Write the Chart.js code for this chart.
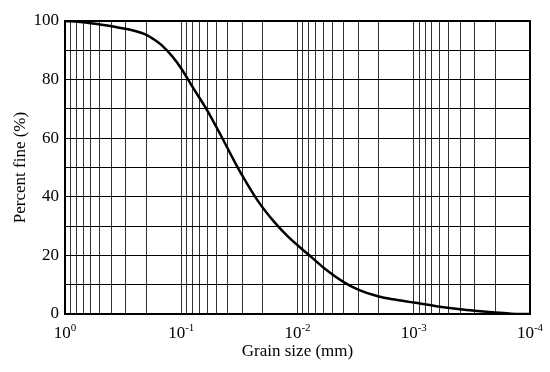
<!DOCTYPE html>
<html>
<head>
<meta charset="utf-8">
<script src="https://cdn.jsdelivr.net/npm/chart.js@4/dist/chart.umd.min.js"></script>
<style>
  body { margin: 0; background: #fff; }
  canvas { display: block; }
</style>
</head>
<body>
<canvas id="grainChart" width="550" height="372"></canvas>
<script>
// grain size (mm) and percent finer
const grainSizes = [1, 0.7, 0.5, 0.35, 0.25, 0.2, 0.17, 0.15, 0.12, 0.1, 0.08, 0.06, 0.045, 0.035, 0.03, 0.022, 0.016, 0.012, 0.008, 0.006, 0.004, 0.003, 0.002, 0.0015, 0.001, 0.0006, 0.0004, 0.0003, 0.0002, 0.00015, 0.00012, 0.0001];
const percentFine = [100, 99.6, 98.8, 97.8, 96.6, 95.3, 93.6, 92.0, 88.0, 83.8, 77.5, 69.6, 60.5, 52.2, 47.4, 38.7, 31.6, 26.3, 20.2, 15.9, 10.9, 8.3, 6.0, 5.0, 3.9, 2.5, 1.6, 1.1, 0.5, 0.15, 0, 0];
const decadeTicks = [1, 0.1, 0.01, 0.001, 0.0001];
const decadeExponents = ["0", "-1", "-2", "-3", "-4"];

const serif = "'Liberation Serif', 'Times New Roman', serif";

// every 1..9 x 10^k value between 1e-4 and 1 for the log grid
const gridValues = [];
decadeTicks.forEach((d, i) => {
    if (i === decadeTicks.length - 1) { gridValues.push(d); return; }
    for (let m = 1; m <= 9; m++) {
        gridValues.push(+(d * m / 10).toPrecision(3));
    }
});
gridValues.push(1);

const points = grainSizes.map((s, i) => ({ x: s, y: percentFine[i] }));

// decade labels like 10^-1 and the frame around the plot
const decadeLabels = {
    id: "decadeLabels",
    afterDraw(chart) {
        const ctx = chart.ctx;
        const xScale = chart.scales.x;
        const area = chart.chartArea;
        ctx.save();
        ctx.fillStyle = "#000";
        ctx.textBaseline = "alphabetic";
        ctx.textAlign = "left";
        decadeTicks.forEach((v, i) => {
            const px = xScale.getPixelForValue(v);
            ctx.font = "17px " + serif;
            const baseW = ctx.measureText("10").width;
            ctx.font = "11px " + serif;
            const supW = ctx.measureText(decadeExponents[i]).width;
            const start = px - (baseW + supW) / 2;
            ctx.font = "17px " + serif;
            ctx.fillText("10", start, 338);
            ctx.font = "11px " + serif;
            ctx.fillText(decadeExponents[i], start + baseW, 331);
        });
        ctx.strokeStyle = "#000";
        ctx.lineWidth = 2;
        ctx.strokeRect(area.left, area.top, area.right - area.left, area.bottom - area.top);
        ctx.restore();
    }
};

new Chart(document.getElementById("grainChart"), {
    type: "line",
    data: {
        datasets: [{
            data: points,
            borderColor: "#000",
            borderWidth: 2.5,
            pointRadius: 0,
            fill: false,
            cubicInterpolationMode: "monotone"
        }]
    },
    options: {
        responsive: false,
        animation: false,
        layout: { padding: { left: 0, right: 20, top: 21, bottom: 0 } },
        plugins: {
            legend: { display: false },
            tooltip: { enabled: false }
        },
        scales: {
            x: {
                type: "logarithmic",
                reverse: true,
                min: 0.0001,
                max: 1,
                afterBuildTicks: scale => {
                    scale.ticks = gridValues.map(v => ({ value: v }));
                },
                afterFit: scale => { scale.height = 58; },
                ticks: { display: false, autoSkip: false },
                grid: { color: "#333", lineWidth: 1, drawTicks: false },
                border: { display: false },
                title: {
                    display: true,
                    text: "Grain size (mm)",
                    color: "#000",
                    font: { family: serif, size: 17 },
                    padding: { top: 0, bottom: 10 }
                }
            },
            y: {
                min: 0,
                max: 100,
                afterFit: scale => { scale.width = 65; },
                ticks: {
                    stepSize: 10,
                    color: "#000",
                    padding: 6,
                    font: { family: serif, size: 17 },
                    callback: v => (v % 20 === 0 ? v : "")
                },
                grid: { color: "#000", lineWidth: 1, drawTicks: false },
                border: { display: false },
                title: {
                    display: true,
                    text: "Percent fine (%)",
                    color: "#000",
                    font: { family: serif, size: 17 },
                    padding: { top: 10, bottom: 0 }
                }
            }
        }
    },
    plugins: [decadeLabels]
});
</script>
</body>
</html>
